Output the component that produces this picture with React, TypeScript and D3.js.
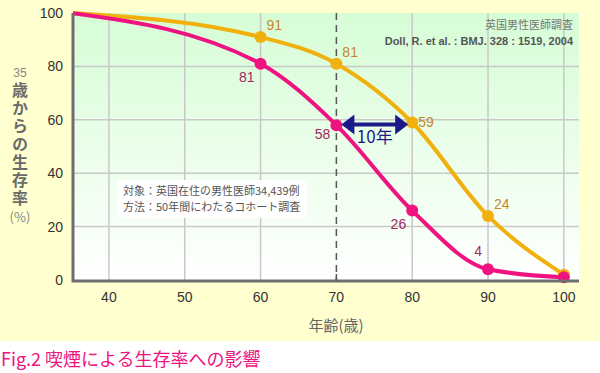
import * as d3 from "d3";
import React from "react";

const ages = [35, 60, 70, 80, 90, 100];
const nonSmoker = [100, 91, 81, 59, 24, 2];
const smoker = [100, 81, 58, 26, 4, 1];
const labelAges = [60, 70, 80, 90];
const xTicks = [40, 50, 60, 70, 80, 90, 100];
const yTicks = [0, 20, 40, 60, 80, 100];

const JP = "'Noto Sans CJK JP', sans-serif";
const NARROW = "'Liberation Sans Narrow', 'Liberation Sans', sans-serif";

const App: React.FC = (): React.ReactElement => {
  const ref = React.useRef<SVGSVGElement>(null);

  React.useEffect(() => {
    const svg = d3.select(ref.current);
    svg.selectAll("*").remove();

    const W = 600;
    const plot = { left: 73, right: 579, top: 13, bottom: 281 };

    const x = d3.scaleLinear().domain([35, 102]).range([71, 579]);
    const y = d3.scaleLinear().domain([0, 100]).range([280, 13]);

    const defs = svg.append("defs");
    const grad = defs
      .append("linearGradient")
      .attr("id", "bg")
      .attr("x1", 0)
      .attr("y1", 0)
      .attr("x2", 0)
      .attr("y2", 1);
    grad.append("stop").attr("offset", "0%").attr("stop-color", "#d6fdd6");
    grad.append("stop").attr("offset", "100%").attr("stop-color", "#ffffff");
    defs
      .append("clipPath")
      .attr("id", "clip")
      .append("rect")
      .attr("x", plot.left)
      .attr("y", plot.top - 4)
      .attr("width", plot.right - plot.left + 6)
      .attr("height", plot.bottom - plot.top + 4);

    // page background
    svg.append("rect").attr("width", W).attr("height", 341).attr("fill", "#ffffd0");
    svg
      .append("rect")
      .attr("x", plot.left)
      .attr("y", plot.top)
      .attr("width", plot.right - plot.left)
      .attr("height", plot.bottom - plot.top)
      .attr("fill", "url(#bg)");

    // grid
    svg
      .append("g")
      .selectAll("line")
      .data(xTicks.filter((d) => d !== 70))
      .enter()
      .append("line")
      .attr("x1", (d) => x(d))
      .attr("x2", (d) => x(d))
      .attr("y1", plot.top)
      .attr("y2", plot.bottom)
      .attr("stroke", "#c8c8c8")
      .attr("stroke-width", 1.5);
    svg
      .append("g")
      .selectAll("line")
      .data(yTicks.filter((d) => d > 0 && d < 100))
      .enter()
      .append("line")
      .attr("x1", plot.left)
      .attr("x2", plot.right)
      .attr("y1", (d) => y(d))
      .attr("y2", (d) => y(d))
      .attr("stroke", "#c8c8c8")
      .attr("stroke-width", 1.5);
    svg
      .append("line")
      .attr("x1", x(70))
      .attr("x2", x(70))
      .attr("y1", plot.top)
      .attr("y2", plot.bottom)
      .attr("stroke", "#555")
      .attr("stroke-width", 1.5)
      .attr("stroke-dasharray", "7,5");

    // notes box
    svg
      .append("rect")
      .attr("x", 117)
      .attr("y", 180)
      .attr("width", 190)
      .attr("height", 38)
      .attr("fill", "#ffffff");
    const note = svg
      .append("g")
      .attr("font-family", JP)
      .attr("font-size", 11)
      .attr("fill", "#555");
    note.append("text").attr("x", 123).attr("y", 195).text("対象：英国在住の男性医師34,439例");
    note.append("text").attr("x", 123).attr("y", 211).text("方法：50年間にわたるコホート調査");

    // source
    svg
      .append("text")
      .attr("x", 573)
      .attr("y", 29)
      .attr("text-anchor", "end")
      .attr("font-family", JP)
      .attr("font-size", 11)
      .attr("fill", "#777")
      .text("英国男性医師調査");
    svg
      .append("text")
      .attr("x", 573)
      .attr("y", 45)
      .attr("text-anchor", "end")
      .attr("font-family", "'Liberation Sans', Arial, sans-serif")
      .attr("font-weight", "bold")
      .attr("font-size", 11)
      .attr("fill", "#555")
      .text("Doll, R. et al. : BMJ. 328 : 1519, 2004");

    // lines
    const line = d3
      .line<number>()
      .x((d, i) => x(ages[i]))
      .y((d) => y(d))
      .curve(d3.curveMonotoneX);

    const series = [
      { data: nonSmoker, color: "#f0b10e", text: "#c8862a" },
      { data: smoker, color: "#ee1380", text: "#a02a62" },
    ];
    const g = svg.append("g").attr("clip-path", "url(#clip)");
    series.forEach((s) => {
      g.append("path")
        .attr("d", line(s.data))
        .attr("fill", "none")
        .attr("stroke", s.color)
        .attr("stroke-width", 4);
    });
    series.forEach((s) => {
      svg
        .append("g")
        .selectAll("circle")
        .data(s.data.slice(1))
        .enter()
        .append("circle")
        .attr("cx", (d, i) => x(ages[i + 1]))
        .attr("cy", (d) => y(d))
        .attr("r", 6)
        .attr("fill", s.color);
    });

    // value labels
    const lab = svg.append("g").attr("font-family", NARROW).attr("font-size", 14);
    labelAges.forEach((a) => {
      const i = ages.indexOf(a);
      lab
        .append("text")
        .attr("x", x(a) + 6)
        .attr("y", y(nonSmoker[i]) + (a === 80 ? 5 : -7))
        .attr("fill", series[0].text)
        .text(nonSmoker[i]);
      const off = a === 90 ? -13 : a === 70 ? 14 : 18;
      lab
        .append("text")
        .attr("x", x(a) - 6)
        .attr("y", y(smoker[i]) + off)
        .attr("text-anchor", "end")
        .attr("fill", series[1].text)
        .text(smoker[i]);
    });

    // 10-year arrow
    const ay = y(59) + 2;
    const ax1 = x(70) + 5;
    const ax2 = x(80) - 4;
    const navy = "#1c1a8a";
    svg
      .append("line")
      .attr("x1", ax1 + 8)
      .attr("x2", ax2 - 8)
      .attr("y1", ay)
      .attr("y2", ay)
      .attr("stroke", navy)
      .attr("stroke-width", 4);
    svg
      .append("path")
      .attr("d", `M${ax1},${ay} L${ax1 + 13},${ay - 10} L${ax1 + 13},${ay + 10} Z`)
      .attr("fill", navy);
    svg
      .append("path")
      .attr("d", `M${ax2},${ay} L${ax2 - 13},${ay - 10} L${ax2 - 13},${ay + 10} Z`)
      .attr("fill", navy);
    svg
      .append("text")
      .attr("x", (ax1 + ax2) / 2)
      .attr("y", ay + 19)
      .attr("text-anchor", "middle")
      .attr("font-family", JP)
      .attr("font-size", 17)
      .attr("fill", navy)
      .text("10年");

    // axes
    svg
      .append("path")
      .attr("d", `M${plot.left},${plot.top} V${plot.bottom} H${plot.right}`)
      .attr("fill", "none")
      .attr("stroke", "#6e6e6e")
      .attr("stroke-width", 3);
    svg
      .append("line")
      .attr("x1", x(70))
      .attr("x2", x(70))
      .attr("y1", plot.bottom - 7)
      .attr("y2", plot.bottom)
      .attr("stroke", "#555")
      .attr("stroke-width", 1.5);

    const ticks = svg
      .append("g")
      .attr("font-family", NARROW)
      .attr("font-size", 14)
      .attr("fill", "#333");
    yTicks.forEach((t) => {
      ticks
        .append("text")
        .attr("x", 63)
        .attr("y", y(t) + 5)
        .attr("text-anchor", "end")
        .text(t);
    });
    xTicks.forEach((t) => {
      ticks
        .append("text")
        .attr("x", x(t))
        .attr("y", 302)
        .attr("text-anchor", "middle")
        .text(t);
    });

    // axis titles
    svg
      .append("text")
      .attr("x", 336)
      .attr("y", 331)
      .attr("text-anchor", "middle")
      .attr("font-family", JP)
      .attr("font-size", 15)
      .attr("fill", "#666")
      .text("年齢(歳)");

    svg
      .append("text")
      .attr("x", 20)
      .attr("y", 77)
      .attr("text-anchor", "middle")
      .attr("font-family", NARROW)
      .attr("font-size", 12)
      .attr("fill", "#888")
      .text("35");
    svg
      .append("text")
      .attr("x", 20)
      .attr("y", 82)
      .attr("writing-mode", "vertical-rl")
      .attr("style", "writing-mode: vertical-rl; text-orientation: upright")
      .attr("letter-spacing", 2)
      .attr("font-family", JP)
      .attr("font-weight", "bold")
      .attr("font-size", 16)
      .attr("fill", "#6a6a6a")
      .text("歳からの生存率");
    svg
      .append("text")
      .attr("x", 20)
      .attr("y", 222)
      .attr("text-anchor", "middle")
      .attr("font-family", JP)
      .attr("font-size", 13)
      .attr("fill", "#888")
      .text("(%)");

    // caption
    svg
      .append("text")
      .attr("x", 1)
      .attr("y", 366)
      .attr("font-family", JP)
      .attr("font-size", 18)
      .attr("fill", "#ee1380")
      .text("Fig.2 喫煙による生存率への影響");
  }, []);

  return (
    <svg
      ref={ref}
      width={600}
      height={373}
      style={{ position: "absolute", left: 0, top: 0, background: "#fff", display: "block" }}
    ></svg>
  );
};

export default App;
